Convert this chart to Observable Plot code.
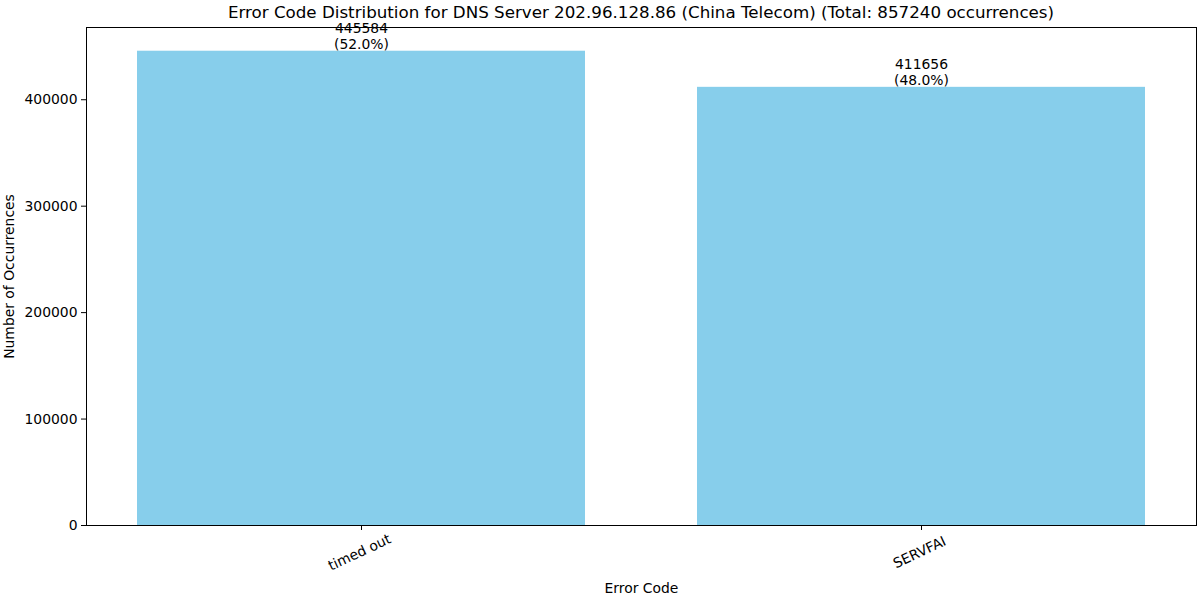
<!DOCTYPE html>
<html>
<head>
<meta charset="utf-8">
<script src="https://cdn.jsdelivr.net/npm/d3@7"></script>
<script src="https://cdn.jsdelivr.net/npm/@observablehq/plot@0.6"></script>
<style>
  html, body { margin: 0; padding: 0; background: #fff; }
  body { width: 1200px; height: 600px; overflow: hidden; font-family: "DejaVu Sans", sans-serif; }
  #title { height: 24px; line-height: 24px; font-size: 16.7px; text-align: center; padding-left: 82px; color: #000; white-space: nowrap; }
  #chart svg { overflow: visible; }
</style>
</head>
<body>
<div id="title">Error Code Distribution for DNS Server 202.96.128.86 (China Telecom) (Total: 857240 occurrences)</div>
<div id="chart"></div>
<script>
const categories = ["timed out", "SERVFAI"];
const counts = [445584, 411656];
const percents = ["52.0%", "48.0%"];
const yTicks = [0, 100000, 200000, 300000, 400000];

const data = categories.map((c, i) => ({category: c, count: counts[i], label: `${counts[i]}\n(${percents[i]})`}));
const ymax = d3.max(counts) * 1.05;

const chart = Plot.plot({
  width: 1200,
  height: 576,
  marginLeft: 86,
  marginRight: 4,
  marginTop: 3,
  marginBottom: 75,
  style: {fontFamily: "DejaVu Sans, sans-serif", fontSize: "13.9px", color: "#000", background: "#fff", overflow: "visible"},
  x: {domain: categories, paddingInner: 0.2, paddingOuter: 0.09, label: null},
  y: {domain: [0, ymax], label: null},
  marks: [
    Plot.barY(data, {x: "category", y: "count", fill: "#87CEEB"}),
    Plot.frame({stroke: "#000", strokeWidth: 1}),
    Plot.text(data, {x: "category", y: "count", text: "label", lineAnchor: "bottom", lineHeight: 1.18, dy: -2, fontSize: 13.9, fill: "#000"}),
    Plot.axisY({ticks: yTicks, tickSize: 5, tickPadding: 4, tickFormat: d => String(d), label: "Number of Occurrences", labelAnchor: "center", labelArrow: "none", labelOffset: 82, fontSize: 13.9}),
    Plot.axisX({tickSize: 5, tickFormat: () => "", label: "Error Code", labelAnchor: "center", labelArrow: "none", labelOffset: 67, fontSize: 13.9}),
    Plot.text(categories, {x: d => d, frameAnchor: "bottom", dy: 31, rotate: -25, textAnchor: "middle", fontSize: 13.9, fill: "#000"})
  ]
});
document.getElementById("chart").appendChild(chart);
</script>
</body>
</html>
